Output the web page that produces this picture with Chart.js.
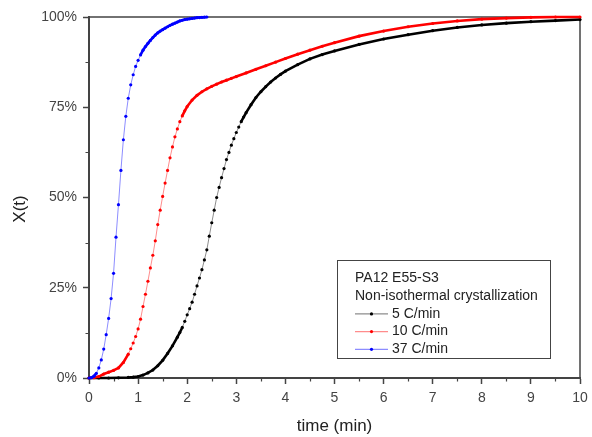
<!DOCTYPE html>
<html>
<head>
<meta charset="utf-8">
<script src="https://cdn.jsdelivr.net/npm/chart.js@4.4.1/dist/chart.umd.min.js"></script>
<style>
    html, body { margin: 0; padding: 0; background: #fff; }
    canvas { display: block; }
</style>
</head>
<body>
<canvas id="chart" width="592" height="437"></canvas>
<script>
const FONT = "'Liberation Sans', Arial, sans-serif";

// relative crystallinity X(t) in %, against time in min, one pair per cooling rate
const time5 = [0, 0.2, 0.4, 0.6, 0.8, 0.9, 1.0, 1.1, 1.2, 1.3, 1.4, 1.5, 1.6, 1.7, 1.8, 1.85, 1.9, 1.95,
    2.0, 2.05, 2.1, 2.15, 2.2, 2.25, 2.3, 2.35, 2.4, 2.45, 2.5, 2.55, 2.6, 2.65, 2.7, 2.75, 2.8, 2.85,
    2.9, 2.95, 3.0, 3.05, 3.1, 3.15, 3.2, 3.3, 3.4, 3.5, 3.6, 3.7, 3.8, 3.9, 4.0, 4.25, 4.5, 4.75, 5.0,
    5.5, 6.0, 6.5, 7.0, 7.5, 8.0, 8.5, 9.0, 9.5, 10];
const x5 = [0, 0, 0, 0.05, 0.15, 0.25, 0.4, 0.8, 1.4, 2.2, 3.4, 4.9, 6.8, 8.9, 11.3, 12.6, 14, 15.7,
    17.5, 19.2, 21, 23.2, 25.5, 27.7, 30, 32.7, 35.5, 39.3, 43, 46.5, 50, 52.8, 55.5, 58, 60.5, 62.5,
    64.5, 66.3, 68, 69.5, 71, 72.3, 73.5, 75.7, 77.7, 79.3, 80.7, 82, 83.1, 84.1, 85, 86.8, 88.4, 89.6, 90.6,
    92.4, 93.9, 95.1, 96.2, 97.1, 97.8, 98.3, 98.7, 99.0, 99.3];

const time10 = [0, 0.1, 0.2, 0.3, 0.4, 0.5, 0.6, 0.7, 0.8, 0.85, 0.9, 0.95, 1.0, 1.05, 1.1, 1.15, 1.2,
    1.25, 1.3, 1.35, 1.4, 1.45, 1.5, 1.55, 1.6, 1.65, 1.7, 1.75, 1.8, 1.85, 1.9, 1.95, 2.0, 2.1, 2.2,
    2.3, 2.4, 2.5, 2.6, 2.7, 2.8, 2.9, 3.0, 3.2, 3.4, 3.6, 3.8, 4.0, 4.25, 4.5, 4.75, 5.0, 5.5, 6.0,
    6.5, 7.0, 7.5, 8.0, 8.5, 9.0, 9.5, 10];
const x10 = [0, 0.1, 0.4, 1.1, 1.6, 2.1, 2.8, 4.3, 6.6, 8.1, 9.7, 11.5, 13.6, 16.3, 19.8, 23.2, 26.8,
    30.5, 34, 38, 42.5, 46.5, 50.3, 54, 57.5, 61, 64, 66.8, 69, 71, 72.6, 74, 75.2, 77, 78.3,
    79.3, 80.1, 80.8, 81.4, 82, 82.5, 83, 83.5, 84.5, 85.5, 86.5, 87.5, 88.5, 89.7, 90.8, 91.9, 92.9, 94.7, 96.1,
    97.3, 98.2, 98.9, 99.4, 99.7, 99.9, 100, 100];

const time37 = [0, 0.05, 0.1, 0.15, 0.2, 0.25, 0.3, 0.35, 0.4, 0.45, 0.5, 0.55, 0.6, 0.65, 0.7, 0.75,
    0.8, 0.85, 0.9, 0.95, 1.0, 1.05, 1.1, 1.15, 1.2, 1.25, 1.3, 1.35, 1.4, 1.45, 1.5, 1.55, 1.6, 1.65,
    1.7, 1.75, 1.8, 1.85, 1.9, 1.95, 2.0, 2.05, 2.1, 2.15, 2.2, 2.25, 2.3, 2.35, 2.4];
const x37 = [0, 0.1, 0.5, 1.3, 2.8, 5, 8, 12, 16.5, 22, 29, 39, 48, 57.5, 66, 72.5,
    77.5, 81.2, 84, 86.3, 88, 89.5, 90.8, 91.8, 92.7, 93.5, 94.3, 95, 95.6, 96.1, 96.5, 96.9, 97.3, 97.7,
    98, 98.3, 98.6, 98.9, 99.1, 99.3, 99.4, 99.5, 99.6, 99.7, 99.8, 99.85, 99.9, 99.95, 100];

const seriesLabels = ['5 C/min', '10 C/min', '37 C/min'];
const legendTitle = ['PA12 E55-S3', 'Non-isothermal crystallization'];
const xMinorTicks = [0.5, 1.5, 2.5, 3.5, 4.5, 5.5, 6.5, 7.5, 8.5, 9.5];
const yMinorTicks = [12.5, 37.5, 62.5, 87.5];

const AXIS = '#444';

// where the curve is shallow the symbols pile up into a solid, heavier line
function shallow(ctx) {
    const dx = ctx.p1.x - ctx.p0.x;
    const dy = Math.abs(ctx.p1.y - ctx.p0.y);
    return dy < dx * 2.2;
}

function makeDataset(label, times, values, rgb, order) {
    return {
        label: label,
        data: times.map((t, i) => ({x: t, y: values[i]})),
        rgb: rgb,
        borderColor: `rgba(${rgb},0.45)`,
        borderWidth: 1,
        pointRadius: 1.6,
        pointHoverRadius: 1.6,
        pointBorderWidth: 0,
        pointBackgroundColor: `rgb(${rgb})`,
        tension: 0,
        order: order,
        clip: 6,
        segment: {
            borderWidth: ctx => shallow(ctx) ? 2.6 : 1,
            borderColor: ctx => shallow(ctx) ? `rgb(${rgb})` : `rgba(${rgb},0.45)`,
        }
    };
}

// top/right frame plus the short minor ticks on both axes
const framePlugin = {
    id: 'frame',
    beforeDatasetsDraw(chart) {
        const {ctx, chartArea: a} = chart;
        const xs = chart.scales.x, ys = chart.scales.y;
        ctx.save();
        ctx.strokeStyle = AXIS;
        ctx.lineWidth = 1.5;
        ctx.beginPath();
        ctx.moveTo(a.left, a.top);
        ctx.lineTo(a.right, a.top);
        ctx.lineTo(a.right, a.bottom);
        ctx.stroke();

        ctx.lineWidth = 1.2;
        ctx.beginPath();
        xMinorTicks.forEach(v => {
            const px = Math.round(xs.getPixelForValue(v)) + 0.5;
            ctx.moveTo(px, a.bottom);
            ctx.lineTo(px, a.bottom + 3.5);
        });
        yMinorTicks.forEach(v => {
            const py = Math.round(ys.getPixelForValue(v)) + 0.5;
            ctx.moveTo(a.left, py);
            ctx.lineTo(a.left - 3.5, py);
        });
        ctx.stroke();
        ctx.restore();
    }
};

// boxed legend with a two line heading, and the rotated y title
const legendPlugin = {
    id: 'boxLegend',
    afterDraw(chart) {
        const {ctx, chartArea: a} = chart;
        const left = 337, top = 260;
        const w = 213, h = 98, lh = 17.7;
        ctx.save();
        ctx.strokeStyle = AXIS;
        ctx.lineWidth = 1;
        ctx.strokeRect(left + 0.5, top + 0.5, w, h);

        ctx.font = `14px ${FONT}`;
        ctx.fillStyle = '#222';
        ctx.textBaseline = 'middle';
        ctx.textAlign = 'left';
        let y = top + 18.5;
        legendTitle.forEach(t => {
            ctx.fillText(t, left + 18, y);
            y += lh;
        });
        chart.data.datasets.forEach(ds => {
            ctx.strokeStyle = `rgba(${ds.rgb},0.45)`;
            ctx.lineWidth = 1.2;
            ctx.beginPath();
            ctx.moveTo(left + 18, y);
            ctx.lineTo(left + 51, y);
            ctx.stroke();
            ctx.fillStyle = `rgb(${ds.rgb})`;
            ctx.beginPath();
            ctx.arc(left + 34.5, y, 1.6, 0, Math.PI * 2);
            ctx.fill();
            ctx.fillStyle = '#222';
            ctx.fillText(ds.label, left + 55, y);
            y += lh;
        });

        ctx.translate(20, 209);
        ctx.rotate(-Math.PI / 2);
        ctx.textAlign = 'center';
        ctx.font = `17px ${FONT}`;
        ctx.fillText('X(t)', 0, 0);
        ctx.restore();
    }
};

new Chart(document.getElementById('chart'), {
    type: 'line',
    data: {
        datasets: [
            makeDataset(seriesLabels[0], time5, x5, '0,0,0', 2),
            makeDataset(seriesLabels[1], time10, x10, '255,0,0', 1),
            makeDataset(seriesLabels[2], time37, x37, '0,0,255', 0),
        ]
    },
    options: {
        responsive: false,
        devicePixelRatio: 1,
        animation: false,
        events: [],
        layout: {padding: {top: 17, right: 12, left: 0, bottom: 0}},
        scales: {
            x: {
                type: 'linear',
                min: 0,
                max: 10,
                afterFit: scale => { scale.height = 59; scale.paddingRight = 0; },
                border: {color: AXIS, width: 2},
                grid: {drawOnChartArea: false, tickLength: 6, tickColor: AXIS, tickWidth: 1.5},
                ticks: {stepSize: 1, color: '#444', padding: 6, maxRotation: 0,
                    font: {family: FONT, size: 14}},
                title: {display: true, text: 'time (min)', color: '#222', padding: {top: 0, bottom: 0},
                    font: {family: FONT, size: 17}},
            },
            y: {
                min: 0,
                max: 100,
                afterFit: scale => { scale.width = 89; },
                border: {color: AXIS, width: 2},
                grid: {drawOnChartArea: false, tickLength: 6, tickColor: AXIS, tickWidth: 1.5},
                ticks: {stepSize: 25, color: '#444', padding: 6, callback: v => v + '%',
                    font: {family: FONT, size: 14}},
            }
        },
        plugins: {
            legend: {display: false},
            tooltip: {enabled: false},
        }
    },
    plugins: [framePlugin, legendPlugin]
});
</script>
</body>
</html>
